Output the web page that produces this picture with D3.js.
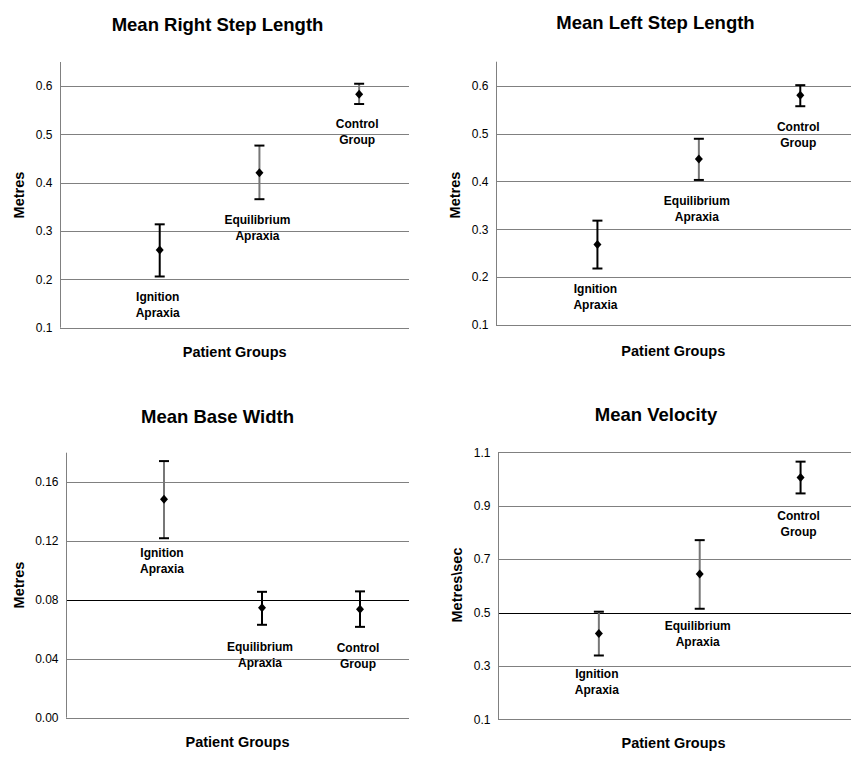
<!DOCTYPE html>
<html><head><meta charset="utf-8">
<script src="https://cdn.jsdelivr.net/npm/d3@7"></script>
<style>
html,body{margin:0;padding:0;background:#fff;}
svg{display:block;font-family:"Liberation Sans",Arial,Helvetica,sans-serif;}
</style></head>
<body>
<svg id="chart" width="867" height="764"></svg>
<script>
// ---- data ----
const categories = [["Ignition","Apraxia"],["Equilibrium","Apraxia"],["Control","Group"]];

const rightStepMean = [0.261, 0.421, 0.583];
const rightStepLow  = [0.206, 0.366, 0.563];
const rightStepHigh = [0.314, 0.477, 0.605];

const leftStepMean = [0.268, 0.447, 0.580];
const leftStepLow  = [0.218, 0.403, 0.557];
const leftStepHigh = [0.318, 0.489, 0.601];

const baseWidthMean = [0.1484, 0.0746, 0.0737];
const baseWidthLow  = [0.1219, 0.0631, 0.0617];
const baseWidthHigh = [0.1743, 0.0855, 0.0858];

const velocityMean = [0.421, 0.644, 1.006];
const velocityLow  = [0.339, 0.514, 0.946];
const velocityHigh = [0.503, 0.771, 1.065];

const stepTicks = [0.1, 0.2, 0.3, 0.4, 0.5, 0.6];
const baseTicks = [0.00, 0.04, 0.08, 0.12, 0.16];
const velocityTicks = [0.1, 0.3, 0.5, 0.7, 0.9, 1.1];

// label anchor values (data units, line-1 centre)
const rightLabelAt = [0.165, 0.325, 0.523];
const leftLabelAt = [0.177, 0.361, 0.515];
const baseLabelAt = [0.112, 0.0487, 0.0477];
const velocityLabelAt = [0.271, 0.452, 0.862];

// ---- layout / style ----
const panels = [
  {title:"Mean Right Step Length", ytitle:"Metres", mean:rightStepMean, low:rightStepLow, high:rightStepHigh,
   ticks:stepTicks, fmt:".1f", domain:[0.1,0.65], labelAt:rightLabelAt, cross:null,
   ax:60, right:409, yb:327.7, yt:62, titleX:217.5, titleY:31, xtX:234.7, xtY:356.5, ytX:24, ytY:195,
   stem:["#000","#777","#777"]},
  {title:"Mean Left Step Length", ytitle:"Metres", mean:leftStepMean, low:leftStepLow, high:leftStepHigh,
   ticks:stepTicks, fmt:".1f", domain:[0.1,0.65], labelAt:leftLabelAt, cross:null,
   ax:496, right:851, yb:325, yt:61.7, titleX:655.5, titleY:29.3, xtX:673.3, xtY:356, ytX:459.5, ytY:195,
   stem:["#000","#777","#000"]},
  {title:"Mean Base Width", ytitle:"Metres", mean:baseWidthMean, low:baseWidthLow, high:baseWidthHigh,
   ticks:baseTicks, fmt:".2f", domain:[0,0.18], labelAt:baseLabelAt, cross:0.08,
   ax:66, right:409, yb:717.7, yt:452.7, titleX:217.5, titleY:422.7, xtX:237.5, xtY:746.7, ytX:24, ytY:585,
   stem:["#777","#000","#000"]},
  {title:"Mean Velocity", ytitle:"Metres\\sec", mean:velocityMean, low:velocityLow, high:velocityHigh,
   ticks:velocityTicks, fmt:".1f", domain:[0.1,1.1], labelAt:velocityLabelAt, cross:0.5,
   ax:498, right:851, yb:719.3, yt:452.3, titleX:656, titleY:420.7, xtX:673.5, xtY:747.7, ytX:462, ytY:585,
   stem:["#777","#777","#000"]}
];

const svg = d3.select("#chart");
const grid = "#808080";

panels.forEach(p => {
  const g = svg.append("g");
  const x = d3.scaleLinear().domain([0, 3.5]).range([p.ax, p.right]);
  const y = d3.scaleLinear().domain(p.domain).range([p.yb, p.yt]);

  // gridlines
  g.selectAll("line.grid").data(p.ticks).enter().append("line")
    .attr("x1", p.ax).attr("x2", p.right)
    .attr("y1", d => Math.round(y(d)) + 0.5).attr("y2", d => Math.round(y(d)) + 0.5)
    .attr("stroke", d => (p.cross !== null && Math.abs(d - p.cross) < 1e-9) ? "#000" : grid)
    .attr("stroke-width", 1);

  // y axis via d3.axisLeft
  const axis = d3.axisLeft(y).tickValues(p.ticks).tickFormat(d3.format(p.fmt)).tickSize(0).tickPadding(8);
  const ag = g.append("g").attr("transform", `translate(${Math.round(p.ax)+0.5},0)`).call(axis);
  ag.select(".domain").attr("stroke", grid).attr("d", `M0,${y(p.domain[0])}V${y(p.domain[1])}`);
  ag.selectAll("text").attr("font-size", 12).attr("fill", "#000")
    .attr("font-family", "'Liberation Sans',Arial,sans-serif");

  // error bars
  const idx = [0,1,2];
  idx.forEach(i => {
    const cx = x(i + 1);
    g.append("line").attr("x1", cx).attr("x2", cx)
      .attr("y1", y(p.low[i])).attr("y2", y(p.high[i]))
      .attr("stroke", p.stem[i]).attr("stroke-width", 2);
    [p.low[i], p.high[i]].forEach(v => {
      g.append("line").attr("x1", cx - 5).attr("x2", cx + 5)
        .attr("y1", y(v)).attr("y2", y(v))
        .attr("stroke", "#000").attr("stroke-width", 2);
    });
    const cy = y(p.mean[i]);
    g.append("path")
      .attr("d", `M${cx},${cy-4.5}L${cx+4},${cy}L${cx},${cy+4.5}L${cx-4},${cy}Z`)
      .attr("fill", "#000");
    // category label
    const ly = y(p.labelAt[i]);
    const t = g.append("text").attr("text-anchor", "middle").attr("font-size", 12)
      .attr("font-weight", "bold").attr("fill", "#000");
    categories[i].forEach((line, k) => {
      t.append("tspan").attr("x", cx - 2).attr("y", ly + 4.5 + k * 16).text(line);
    });
  });

  // titles
  g.append("text").attr("x", p.titleX).attr("y", p.titleY).attr("text-anchor", "middle")
    .attr("font-size", 18.5).attr("font-weight", "bold").text(p.title);
  g.append("text").attr("x", p.xtX).attr("y", p.xtY).attr("text-anchor", "middle")
    .attr("font-size", 14.5).attr("font-weight", "bold").text("Patient Groups");
  g.append("text").attr("transform", `translate(${p.ytX},${p.ytY}) rotate(-90)`)
    .attr("text-anchor", "middle").attr("font-size", 14.5).attr("font-weight", "bold").text(p.ytitle);
});
</script>
</body></html>
